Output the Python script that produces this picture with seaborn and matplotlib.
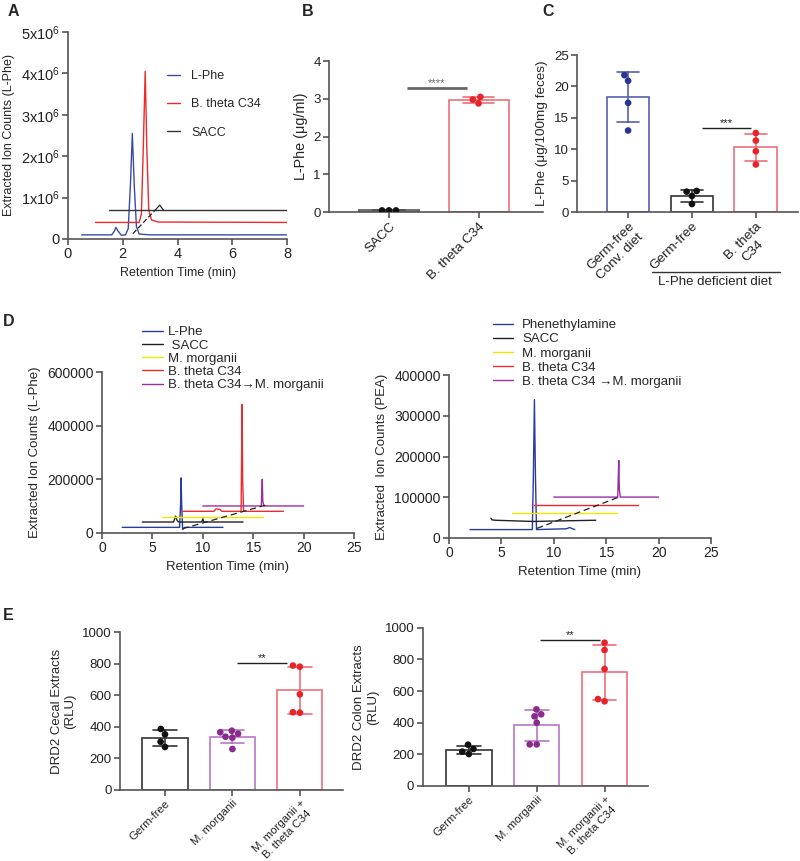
import numpy as np
import pandas as pd
import matplotlib.pyplot as plt
import seaborn as sns

sns.set_style("ticks")
plt.rcParams['font.family'] = ['Liberation Sans', 'DejaVu Sans']
plt.rcParams['mathtext.default'] = 'regular'
plt.rcParams['axes.edgecolor'] = '#555555'
plt.rcParams['xtick.color'] = '#555555'
plt.rcParams['ytick.color'] = '#555555'
plt.rcParams['xtick.labelcolor'] = '#222222'
plt.rcParams['ytick.labelcolor'] = '#222222'

# ---------------- data ----------------
# A: chromatograms (retention time in min, counts)
a_lphe_t = [0.5, 1.6, 1.7, 1.75, 1.82, 1.95, 2.1, 2.2, 2.28, 2.35, 2.42, 2.5, 2.6, 3.0, 8.0]
a_lphe_c = [1.0e5, 1.0e5, 2.0e5, 2.8e5, 2.0e5, 0.9e5, 1.0e5, 2.5e5, 1.3e6, 2.55e6, 1.3e6, 3.0e5, 1.2e5, 1.0e5, 1.0e5]
a_bth_t = [1.0, 2.6, 2.68, 2.75, 2.82, 2.88, 2.95, 3.05, 3.3, 8.0]
a_bth_c = [4e5, 4e5, 6e5, 2.2e6, 4.05e6, 2.2e6, 7e5, 4.6e5, 4.1e5, 4e5]
a_sacc_t = [1.5, 8.0]
a_sacc_c = [7e5, 7e5]
a_dash_t = [2.37, 3.26]
a_dash_c = [1.3e5, 7.5e5]
a_tip_t = [3.26, 3.35, 3.49]
a_tip_c = [7.5e5, 8.2e5, 6.95e5]

# D left: L-Phe chromatograms
dl_lphe_t = [2, 7.7, 7.8, 7.85, 7.9, 8.0, 8.2, 12]
dl_lphe_c = [2e4, 2e4, 1.1e5, 2.05e5, 1.1e5, 1.2e4, 2e4, 2e4]
dl_sacc_t = [4, 7.1, 7.3, 7.45, 7.6, 9.9, 10.0, 10.1, 14]
dl_sacc_c = [4e4, 4e4, 6.2e4, 4.6e4, 4e4, 4e4, 5.2e4, 4e4, 4e4]
dl_mm_t = [6, 16]
dl_mm_c = [6e4, 6e4]
dl_bth_t = [8, 11.1, 11.3, 11.7, 11.9, 13.8, 13.9, 13.95, 14.05, 18]
dl_bth_c = [8e4, 8e4, 8.9e4, 8.7e4, 8e4, 8e4, 4.8e5, 2e5, 8e4, 8e4]
dl_bmm_t = [10, 15.8, 15.9, 15.95, 16.05, 20]
dl_bmm_c = [1e5, 1e5, 2.0e5, 1.2e5, 1e5, 1e5]
dl_dash_t = [8.0, 16.2]
dl_dash_c = [1.5e4, 1.03e5]

# D right: PEA chromatograms
dr_pea_t = [2, 7.95, 8.05, 8.15, 8.25, 8.35, 11.2, 11.5, 11.8, 12]
dr_pea_c = [2e4, 2e4, 1.5e5, 3.4e5, 1.5e5, 2e4, 2.2e4, 2.5e4, 2.2e4, 2e4]
dr_sacc_t = [4, 4.1, 4.4, 8, 14]
dr_sacc_c = [4.8e4, 4.4e4, 4.3e4, 4.0e4, 4.3e4]
dr_mm_t = [6, 16]
dr_mm_c = [6e4, 6e4]
dr_bth_t = [8.1, 18]
dr_bth_c = [8e4, 8e4]
dr_bmm_t = [10, 16.1, 16.2, 16.25, 16.35, 20]
dr_bmm_c = [1e5, 1e5, 1.9e5, 1.2e5, 1e5, 1e5]
dr_dash_t = [8.4, 16.2]
dr_dash_c = [2.3e4, 1.0e5]

# B: L-Phe (ug/ml)
b_groups = ["SACC", "B. theta C34"]
b_values = [[0.05, 0.05, 0.05], [3.05, 2.88, 2.98]]
b_sig = (0.2, 0.87, 3.28, "****")

# C: L-Phe (ug/100mg feces)
c_groups = ["Germ-free\nConv. diet", "Germ-free", "B. theta\nC34"]
c_values = [[21.8, 20.9, 17.4, 13.0], [3.39, 3.28, 2.6, 1.32], [12.6, 11.4, 9.7, 7.6]]
c_sig = (1.15, 1.93, 13.4, "***")

# E: DRD2 reporter
e_groups = ["Germ-free", "M. morganii", "M. morganii +\nB. theta C34"]
e_cecal = [[387, 353, 306, 273], [366, 338, 332, 357, 376, 260], [782, 789, 607, 490, 493]]
e_colon = [[234, 202, 217, 261], [484, 440, 453, 400, 263, 263], [905, 859, 739, 535, 549]]
e_cecal_sig = (1.07, 1.81, 803, "**")
e_colon_sig = (1.05, 1.94, 922, "**")

BLUE, RED, YEL, PUR, BLK = "#2b3aa0", "#ee2a2a", "#f2e600", "#9a2fa0", "#222222"

fig = plt.figure(figsize=(8, 8.61), dpi=100)


def px_axes(l, r, t, b):
    return fig.add_axes([l / 800, 1 - b / 861, (r - l) / 800, (b - t) / 861])


def style(ax, size=9.5):
    sns.despine(ax=ax)
    for s in ["left", "bottom"]:
        ax.spines[s].set_linewidth(1.2)
    ax.tick_params(length=4, width=1.2, labelsize=size, pad=2)


def trace(ax, t, c, color, label=None, **kw):
    sns.lineplot(x=t, y=c, color=color, lw=1, sort=False, estimator=None,
                 label=label, ax=ax, **kw)


def bar_panel(ax, groups, values, edges, points, sig, star_color="#222222", sig_lw=1,
              xsize=9.7, ysize=9.5):
    df = pd.DataFrame({"group": np.repeat(groups, [len(v) for v in values]),
                       "value": np.concatenate(values)})
    sns.barplot(data=df, x="group", y="value", hue="group", order=groups,
                palette=dict(zip(groups, edges)), fill=False, errorbar="sd",
                capsize=0.35, width=0.67, linewidth=1.2,
                err_kws={"linewidth": 1.2}, legend=False, ax=ax)
    sns.swarmplot(data=df, x="group", y="value", hue="group", order=groups,
                  palette=dict(zip(groups, points)), size=4.8, legend=False, ax=ax)
    x0, x1, y, stars = sig
    ax.plot([x0, x1], [y, y], color=star_color, lw=sig_lw, solid_capstyle="butt")
    ax.text((x0 + x1) / 2, y, stars, ha="center", va="bottom", fontsize=8, color=star_color)
    style(ax, ysize)
    ax.set_xlabel("")
    ax.set_xticks(range(len(groups)), groups, rotation=45, ha="right",
                  rotation_mode="anchor", multialignment="center", fontsize=xsize)


# ---------------- A ----------------
axA = px_axes(68, 287, 32, 239)
trace(axA, a_lphe_t, a_lphe_c, "#3a4aa8", "L-Phe")
trace(axA, a_bth_t, a_bth_c, RED, "B. theta C34")
trace(axA, a_sacc_t, a_sacc_c, "#333333", "SACC")
axA.plot(a_dash_t, a_dash_c, color="#222222", lw=0.9, ls=(0, (4, 2)))
axA.plot(a_tip_t, a_tip_c, color="#222222", lw=0.9)
axA.set_xlim(0, 8)
axA.set_ylim(0, 5e6)
axA.set_xticks([0, 2, 4, 6, 8])
axA.set_yticks([0, 1e6, 2e6, 3e6, 4e6, 5e6],
               ["0"] + ["%dx10$^{6}$" % i for i in range(1, 6)])
style(axA, 10.5)
axA.set_xlabel("Retention Time (min)", fontsize=9)
axA.set_ylabel("Extracted Ion Counts (L-Phe)", fontsize=9)
axA.legend(loc="upper left", bbox_to_anchor=(167 / 800, 1 - 70 / 861),
           bbox_transform=fig.transFigure, frameon=False, fontsize=9,
           handlelength=1.05, handletextpad=0.9, labelspacing=1.3,
           borderpad=0, borderaxespad=0)

# ---------------- B ----------------
axB = px_axes(329, 543, 61, 212.3)
bar_panel(axB, b_groups, b_values, ["#555555", "#f06e78"], ["#111111", "#e8232a"],
          b_sig, star_color="#666666", sig_lw=2)
axB.set_xlim(-0.67, 1.72)
axB.set_ylim(0, 4)
axB.set_yticks([0, 1, 2, 3, 4])
axB.set_ylabel("L-Phe (μg/ml)", fontsize=10.4)

# ---------------- C ----------------
axC = px_axes(577, 798, 55, 212.3)
bar_panel(axC, c_groups, c_values, ["#5560b0", "#333333", "#f06e78"],
          ["#2a3590", "#111111", "#e8232a"], c_sig)
axC.set_xlim(-0.8, 2.66)
axC.set_ylim(0, 25)
axC.set_yticks([0, 5, 10, 15, 20, 25])
axC.set_ylabel("L-Phe (μg/100mg feces)", fontsize=9.7)
tr = axC.get_xaxis_transform()
axC.plot([0.37, 2.375], [-0.378, -0.378], color="#333333", lw=1, transform=tr, clip_on=False)
axC.text(1.36, -0.441, "L-Phe deficient diet", transform=tr, ha="center", va="center",
         fontsize=9.5, color="#222222")

# ---------------- D left ----------------
axDL = px_axes(102, 354, 372.3, 532.7)
trace(axDL, dl_lphe_t, dl_lphe_c, BLUE, "L-Phe")
trace(axDL, dl_sacc_t, dl_sacc_c, BLK, " SACC")
trace(axDL, dl_mm_t, dl_mm_c, YEL, "M. morganii")
trace(axDL, dl_bth_t, dl_bth_c, RED, "B. theta C34")
trace(axDL, dl_bmm_t, dl_bmm_c, PUR, "B. theta C34→M. morganii")
axDL.plot(dl_dash_t, dl_dash_c, color="#222222", lw=0.9, ls=(0, (5, 3)))
axDL.set_xlim(0, 25)
axDL.set_ylim(0, 6e5)
axDL.set_xticks([0, 5, 10, 15, 20, 25])
axDL.set_yticks([0, 2e5, 4e5, 6e5], ["0", "200000", "400000", "600000"])
style(axDL, 10)
axDL.set_xlabel("Retention Time (min)", fontsize=9.5)
axDL.set_ylabel("Extracted Ion Counts (L-Phe)", fontsize=9.5)
axDL.legend(loc="upper left", bbox_to_anchor=(142 / 800, 1 - 326 / 861),
            bbox_transform=fig.transFigure, frameon=False, fontsize=9.5,
            handlelength=1.6, handletextpad=0.35, labelspacing=0.08,
            borderpad=0, borderaxespad=0)

# ---------------- D right ----------------
axDR = px_axes(449, 711, 375.3, 537.7)
trace(axDR, dr_pea_t, dr_pea_c, BLUE, "Phenethylamine")
trace(axDR, dr_sacc_t, dr_sacc_c, BLK, "SACC")
trace(axDR, dr_mm_t, dr_mm_c, YEL, "M. morganii")
trace(axDR, dr_bth_t, dr_bth_c, RED, "B. theta C34")
trace(axDR, dr_bmm_t, dr_bmm_c, PUR, "B. theta C34 →M. morganii")
axDR.plot(dr_dash_t, dr_dash_c, color="#222222", lw=0.9, ls=(0, (5, 3)))
axDR.set_xlim(0, 25)
axDR.set_ylim(0, 4e5)
axDR.set_xticks([0, 5, 10, 15, 20, 25])
axDR.set_yticks([0, 1e5, 2e5, 3e5, 4e5], ["0", "100000", "200000", "300000", "400000"])
style(axDR, 10)
axDR.set_xlabel("Retention Time (min)", fontsize=9.5)
axDR.set_ylabel("Extracted  Ion Counts (PEA)", fontsize=9.5)
axDR.legend(loc="upper left", bbox_to_anchor=(493 / 800, 1 - 319 / 861),
            bbox_transform=fig.transFigure, frameon=False, fontsize=9.5,
            handlelength=1.5, handletextpad=0.7, labelspacing=0.15,
            borderpad=0, borderaxespad=0)

# ---------------- E ----------------
e_edges = ["#333333", "#b878c4", "#f06e78"]
e_points = ["#111111", "#8a2a8a", "#e8232a"]
axEL = px_axes(120, 343, 632.3, 790)
bar_panel(axEL, e_groups, e_cecal, e_edges, e_points, e_cecal_sig, xsize=8.2, ysize=9.5)
axEL.set_xlim(-0.667, 2.64)
axEL.set_ylim(0, 1000)
axEL.set_yticks(range(0, 1001, 200))
axEL.set_ylabel("DRD2 Cecal Extracts\n(RLU)", fontsize=9.5)

axER = px_axes(422.7, 648, 627.7, 786)
bar_panel(axER, e_groups, e_colon, e_edges, e_points, e_colon_sig, xsize=8.2, ysize=9.5)
axER.set_xlim(-0.68, 2.64)
axER.set_ylim(0, 1000)
axER.set_yticks(range(0, 1001, 200))
axER.set_ylabel("DRD2 Colon Extracts\n(RLU)", fontsize=9.5)

# panel letters
for letter, x, y in [("A", 8, 12), ("B", 302, 12), ("C", 542, 12), ("D", 3, 321), ("E", 3, 616)]:
    fig.text(x / 800, 1 - y / 861, letter, fontsize=11.5, fontweight="bold", va="center")

fig.savefig("out.png", dpi=100)
